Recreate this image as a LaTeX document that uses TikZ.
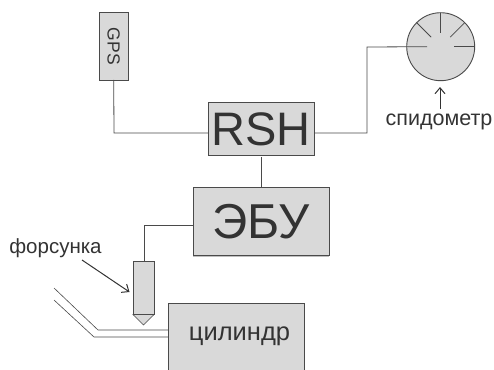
\documentclass[tikz,border=0pt]{standalone}
\usepackage{fontspec}
\setmainfont{Liberation Sans}
\usetikzlibrary{arrows.meta,calc,shadows}
\definecolor{boxfill}{HTML}{D9D9D9}
\definecolor{ink}{HTML}{4A4A4A}
\definecolor{txt}{HTML}{333333}
\tikzset{
  unit/.style={draw=ink,fill=boxfill,line width=0.9pt,inner sep=0pt,outer sep=0pt,text=txt,
    drop shadow={shadow xshift=0pt,shadow yshift=-1.2pt,opacity=0.25,fill=black}},
  wire/.style={draw=ink,line width=0.8pt},
  thin wire/.style={draw=ink,line width=0.6pt},
  pointer/.style={draw=txt,line width=1pt,-{Straight Barb[length=6pt,width=10pt]}},
  caption/.style={text=txt,inner sep=0pt}
}
\begin{document}
\begin{tikzpicture}[x=1pt,y=-1pt]
\useasboundingbox (0,0) rectangle (494,369);
% boxes
\node[unit,rotate=-90,minimum width=67.5pt,minimum height=29.5pt,font=\fontsize{17.5}{17.5}\selectfont] (gps) at (113.7,46.2) {GPS};
\node[unit,minimum width=106pt,minimum height=52.5pt,font=\fontsize{47}{47}\selectfont] (rsh) at (261,129) {RSH};
\node[unit,minimum width=136pt,minimum height=68pt,font=\fontsize{49}{49}\selectfont] (ecu) at (261,221.5) {ЭБУ};
\node[unit,minimum width=136pt,minimum height=67pt,font=\fontsize{25.5}{25.5}\selectfont] (cyl) at (236,336.5) {\hspace*{7pt}\raisebox{-3pt}{цилиндр}};
\node[unit,minimum width=21pt,minimum height=53pt] (inj) at (143.5,288) {};
\coordinate (injL) at (133,314.5);
\coordinate (injR) at (154,314.5);
\coordinate (tip) at (143.5,325);
\draw[thin wire,fill=boxfill] (injL) -- (injR) -- (tip) -- cycle;
% dial
\node[draw=ink,fill=boxfill,line width=0.9pt,circle,minimum size=68pt,inner sep=0pt,outer sep=0pt] (dial) at (440.7,46.7) {};
\coordinate (dialin) at (427,46.7);
\draw[wire] (dial.north) -- +(0,20);
\draw[wire] (dial.north west) -- +(14.5,14.5);
\draw[wire] (dial.north east) -- +(-14.5,14.5);
\draw[wire] (dial.east) -- +(-21,0);
% connectors
\coordinate (c1) at (114,133);
\draw[wire] (gps.east) -- (c1) -- (rsh.west |- c1);
\coordinate (c2) at (367,133);
\coordinate (c3) at (367,47);
\draw[wire] (rsh.east |- c2) -- (c2) -- (c3) -- (dialin);
\draw[wire] (rsh.south) ++(0,2) -- (ecu.north);
\coordinate (c4) at (144,225);
\draw[wire] (ecu.west |- c4) -- (c4) -- (inj.north -| c4);
% pipes
\coordinate (p1) at (54,288);
\coordinate (p2) at (98,330);
\coordinate (p3) at (54,300);
\coordinate (p4) at (94,337);
\draw[thin wire] (p1) -- (p2) -- (cyl.west |- p2);
\draw[thin wire] (p3) -- (p4) -- (cyl.west |- p4);
% labels and pointers
\node[caption,font=\fontsize{20.5}{20.5}\selectfont] (flabel) at (55.5,248) {форсунка};
\coordinate (fs) at (82,260);
\coordinate (fe) at (129.5,292);
\draw[pointer] (fs) -- (fe);
\node[caption,font=\fontsize{21.5}{21.5}\selectfont] (slabel) at (439,122) {спидометр};
\coordinate (ss) at (440,109);
\coordinate (se) at (440,87);
\draw[pointer] (ss) -- (se);
\end{tikzpicture}
\end{document}
